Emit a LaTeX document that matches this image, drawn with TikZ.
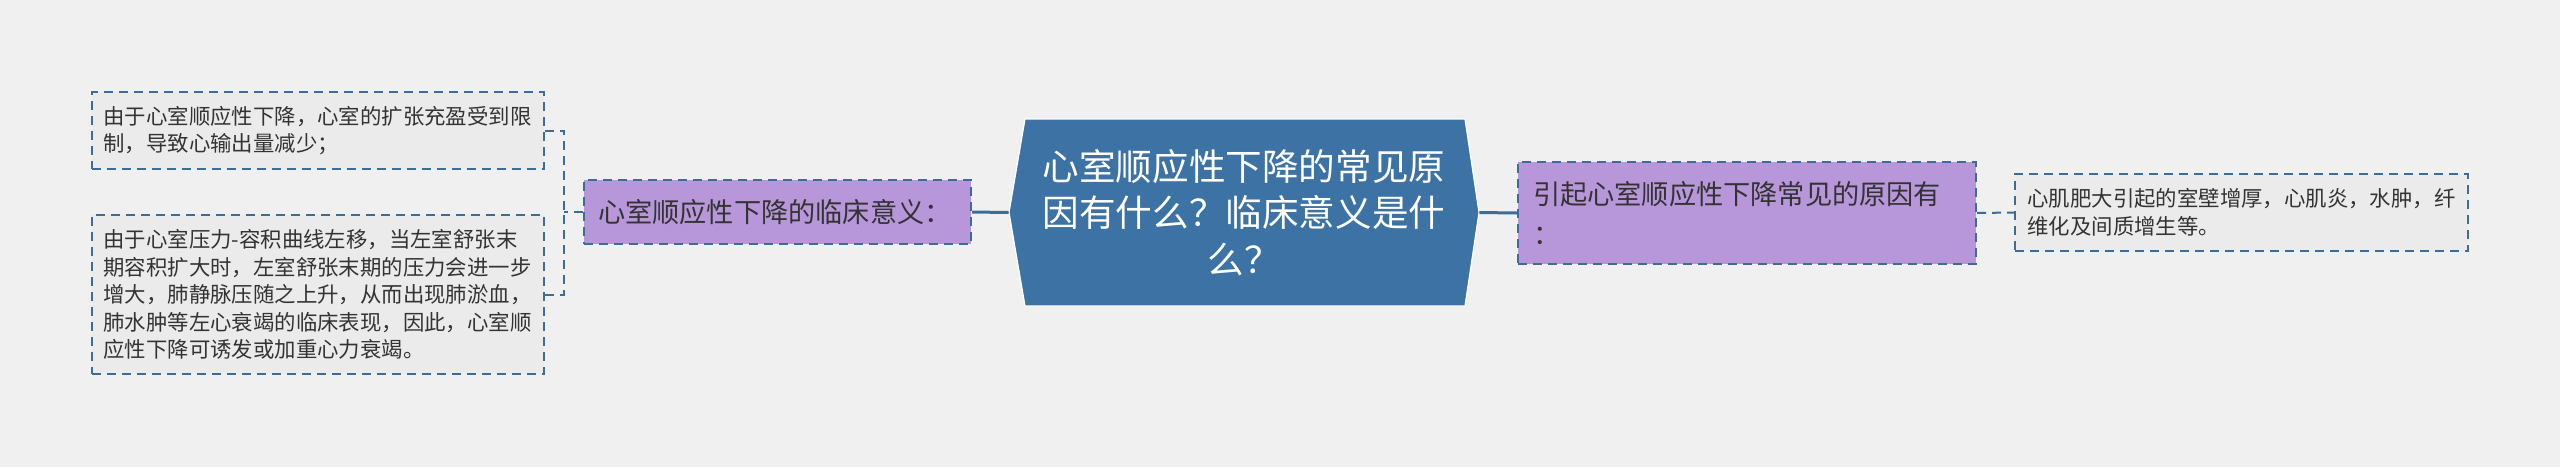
\documentclass[tikz,border=0pt]{standalone}
\usepackage{fontspec}
\newfontfamily\cjk{Noto Sans CJK SC}
\definecolor{bgc}{HTML}{F0F0F0}
\definecolor{leaffill}{HTML}{EBEBEB}
\definecolor{bordc}{HTML}{3B6D9A}
\definecolor{hexfill}{HTML}{3D72A4}
\definecolor{purp}{HTML}{B797D9}
\definecolor{txt}{HTML}{333333}
\tikzset{
  leafbox/.style={draw=bordc, fill=leaffill, line width=1pt, dash pattern=on 4.5pt off 3pt,
    minimum width=226pt, inner xsep=5.5pt, inner ysep=0pt, text width=214pt, align=left,
    text=txt, font=\cjk\fontsize{10.7pt}{13.8pt}\selectfont, anchor=center},
  purpbox/.style={draw=bordc, fill=purp, line width=1pt, dash pattern=on 4.5pt off 3pt,
    inner ysep=0pt, align=left, text=txt, font=\cjk\fontsize{13.6pt}{20pt}\selectfont, anchor=center},
  solidconn/.style={draw=bordc, line width=1.5pt},
  dashconn/.style={draw=bordc, line width=1pt, dash pattern=on 4.5pt off 3pt},
}
\begin{document}
\begin{tikzpicture}[x=0.5pt,y=-0.5pt]
\fill[bgc] (0,0) rectangle (2560,467);
\useasboundingbox (0,0) rectangle (2560,467);
% center hexagon
\fill[hexfill] (1009,212.5) -- (1025,119) -- (1465,119) -- (1479,212.5) -- (1465,306) -- (1025,306) -- cycle;
\draw[white, line width=0.6pt] (1009,212.5) -- (1025,119) -- (1465,119) -- (1479,212.5) -- (1465,306) -- (1025,306) -- cycle;
\node[minimum width=235pt, minimum height=93.5pt, inner sep=0pt, align=center, text=white,
  font=\cjk\fontsize{18.3pt}{23.4pt}\selectfont] (c) at (1244,212.5)
  {心室顺应性下降的常见原\\因有什么？临床意义是什\\么？};
% left side
\node[leafbox, minimum height=38.5pt] (tl) at (317.5,130.5)
  {由于心室顺应性下降，心室的扩张充盈受到限\\制，导致心输出量减少；};
\node[leafbox, minimum height=79.5pt] (bl) at (317.5,294.5)
  {由于心室压力-容积曲线左移，当左室舒张末\\期容积扩大时，左室舒张末期的压力会进一步\\增大，肺静脉压随之上升，从而出现肺淤血，\\肺水肿等左心衰竭的临床表现，因此，心室顺\\应性下降可诱发或加重心力衰竭。};
\node[purpbox, minimum width=193.5pt, minimum height=32pt, inner xsep=7pt, text width=179.5pt] (lp) at (777.5,212)
  {心室顺应性下降的临床意义：};
% right side
\node[purpbox, minimum width=229pt, minimum height=51pt, inner xsep=7.5pt, text width=214pt] (rp) at (1747,213)
  {引起心室顺应性下降常见的原因有\\：};
\node[leafbox, minimum width=226.5pt, minimum height=38.5pt] (rl) at (2241.5,212.5)
  {心肌肥大引起的室壁增厚，心肌炎，水肿，纤\\维化及间质增生等。};
% connectors
\coordinate (jl) at (564,212);
\draw[dashconn] (lp.west) -- (jl);
\draw[dashconn] (tl.east) -| (jl);
\draw[dashconn] (bl.east) -| (jl);
\draw[solidconn] (lp.east) -- (c.west);
\draw[solidconn] (c.east) -- (rp.west);
\draw[dashconn] (rp.east) -- (rl.west);
\end{tikzpicture}
\end{document}
